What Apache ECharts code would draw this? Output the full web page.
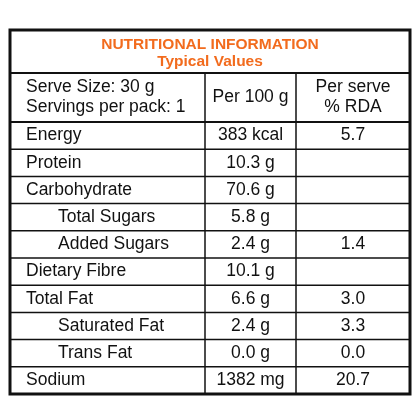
<!DOCTYPE html>
<html><head><meta charset="utf-8">
<script src="https://cdn.jsdelivr.net/npm/echarts@6/dist/echarts.min.js"></script>
<style>html,body{margin:0;padding:0;background:#fff}#c{width:420px;height:420px}</style>
</head><body><div id="c"></div>
<script>
const title = "NUTRITIONAL INFORMATION";
const subtitle = "Typical Values";
const headers = ["Serve Size: 30 g\nServings per pack: 1", "Per 100 g", "Per serve\n% RDA"];
const nutrients = ["Energy","Protein","Carbohydrate","Total Sugars","Added Sugars","Dietary Fibre","Total Fat","Saturated Fat","Trans Fat","Sodium"];
const indentLevel = [0,0,0,1,1,0,0,1,1,0];
const per100g = ["383 kcal","10.3 g","70.6 g","5.8 g","2.4 g","10.1 g","6.6 g","2.4 g","0.0 g","1382 mg"];
const perServe = ["5.7","","","","1.4","","3.0","3.3","0.0","20.7"];

const L=10,R=410,T=30,B=394,C1=205,C2=296,HT=73,HB=122;
const rowH=(B-HB)/nutrients.length;
const font='"Liberation Sans", Arial, sans-serif';
const fs='17.5px ';
const g=[];
g.push({type:'rect',shape:{x:L,y:T,width:R-L,height:B-T},style:{fill:'#fff',stroke:'#111',lineWidth:3}});
g.push({type:'text',x:210,y:45,style:{text:title,fill:'#F26B1D',font:'bold 15.5px '+font,textAlign:'center',textVerticalAlign:'middle'}});
g.push({type:'text',x:210,y:62,style:{text:subtitle,fill:'#F26B1D',font:'bold 15.5px '+font,textAlign:'center',textVerticalAlign:'middle'}});
function line(x1,y1,x2,y2,w){g.push({type:'line',shape:{x1,y1,x2,y2},style:{stroke:'#111',lineWidth:w}});}
line(L,HT,R,HT,2);
line(L,HB,R,HB,2);
line(C1,HT,C1,B,1.5);
line(C2,HT,C2,B,1.5);
for(let i=1;i<nutrients.length;i++) line(L,HB+i*rowH,R,HB+i*rowH,1.5);
const hy=(HT+HB)/2;
g.push({type:'text',x:26,y:hy,style:{text:headers[0],fill:'#111',font:fs+font,textVerticalAlign:'middle',lineHeight:20}});
g.push({type:'text',x:(C1+C2)/2,y:hy,style:{text:headers[1],fill:'#111',font:fs+font,textAlign:'center',textVerticalAlign:'middle'}});
g.push({type:'text',x:(C2+R)/2,y:hy,style:{text:headers[2],fill:'#111',font:fs+font,textAlign:'center',textVerticalAlign:'middle',lineHeight:20}});
nutrients.forEach((n,i)=>{
  const y=HB+(i+0.5)*rowH;
  g.push({type:'text',x:26+indentLevel[i]*32,y,style:{text:n,fill:'#111',font:fs+font,textVerticalAlign:'middle'}});
  g.push({type:'text',x:(C1+C2)/2,y,style:{text:per100g[i],fill:'#111',font:fs+font,textAlign:'center',textVerticalAlign:'middle'}});
  if(perServe[i]) g.push({type:'text',x:(C2+R)/2,y,style:{text:perServe[i],fill:'#111',font:fs+font,textAlign:'center',textVerticalAlign:'middle'}});
});
const chart=echarts.init(document.getElementById('c'));
chart.setOption({animation:false,graphic:g});
</script></body></html>
